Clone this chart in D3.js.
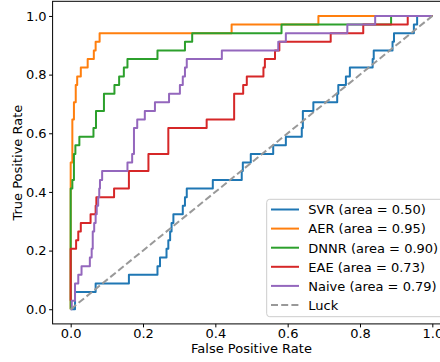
<!DOCTYPE html>
<html>
<head>
<meta charset="utf-8">
<script src="https://cdn.jsdelivr.net/npm/d3@7"></script>
<style>
  body { margin: 0; background: #fff; }
  svg { display: block; font-family: "DejaVu Sans", sans-serif; }
</style>
</head>
<body>
<svg width="440" height="362"></svg>
<script>
// ROC points (top-left corner of each step)
let svrFpr = [0, 0.012, 0.012, 0.069, 0.161, 0.240, 0.247, 0.265, 0.270, 0.275, 0.279, 0.284, 0.310, 0.316, 0.321, 0.393, 0.473, 0.476, 0.498, 0.560, 0.595, 0.639, 0.642, 0.671, 0.737, 0.740, 0.761, 0.772, 0.835, 0.838, 0.890, 0.894, 0.949, 0.958, 1.0];
let svrTpr = [0, 0.029, 0.059, 0.088, 0.118, 0.147, 0.176, 0.206, 0.235, 0.265, 0.294, 0.324, 0.353, 0.382, 0.412, 0.441, 0.471, 0.500, 0.529, 0.559, 0.588, 0.618, 0.676, 0.706, 0.735, 0.765, 0.794, 0.824, 0.853, 0.882, 0.912, 0.941, 0.971, 1.0, 1.0];

let aerFpr = [0, 0, 0.0046, 0.009, 0.014, 0.018, 0.028, 0.047, 0.064, 0.069, 0.080, 0.445, 0.685, 1.0];
let aerTpr = [0, 0.5, 0.647, 0.706, 0.765, 0.794, 0.824, 0.853, 0.882, 0.912, 0.941, 0.971, 1.0, 1.0];

let dnnrFpr = [0, 0, 0.0046, 0.009, 0.013, 0.024, 0.063, 0.070, 0.092, 0.121, 0.134, 0.147, 0.157, 0.240, 0.316, 0.336, 0.583, 0.886, 1.0];
let dnnrTpr = [0, 0.412, 0.441, 0.529, 0.559, 0.588, 0.618, 0.676, 0.735, 0.765, 0.794, 0.824, 0.853, 0.882, 0.912, 0.941, 0.971, 1.0, 1.0];

let eaeFpr = [0, 0, 0.015, 0.021, 0.028, 0.055, 0.069, 0.071, 0.120, 0.161, 0.215, 0.270, 0.376, 0.452, 0.477, 0.487, 0.533, 0.537, 0.565, 0.577, 0.719, 0.809, 0.932, 1.0];
let eaeTpr = [0.029, 0.206, 0.235, 0.265, 0.294, 0.324, 0.353, 0.382, 0.412, 0.471, 0.529, 0.618, 0.647, 0.735, 0.765, 0.794, 0.824, 0.853, 0.882, 0.912, 0.941, 0.971, 1.0, 1.0];

let naiveFpr = [0, 0.003, 0.012, 0.021, 0.030, 0.053, 0.058, 0.061, 0.065, 0.069, 0.072, 0.076, 0.079, 0.081, 0.087, 0.157, 0.170, 0.175, 0.184, 0.205, 0.233, 0.272, 0.302, 0.310, 0.316, 0.321, 0.418, 0.574, 0.595, 0.765, 0.842, 1.0];
let naiveTpr = [0, 0.029, 0.088, 0.118, 0.147, 0.176, 0.206, 0.265, 0.294, 0.324, 0.353, 0.382, 0.412, 0.441, 0.471, 0.500, 0.529, 0.618, 0.647, 0.676, 0.706, 0.735, 0.765, 0.794, 0.824, 0.853, 0.882, 0.912, 0.941, 0.971, 1.0, 1.0];

let luckFpr = [0, 1];
let luckTpr = [0, 1];

let seriesNames = ["SVR", "AER", "DNNR", "EAE", "Naive"];
let seriesAreas = ["0.50", "0.95", "0.90", "0.73", "0.79"];
let tickValues = [0, 0.2, 0.4, 0.6, 0.8, 1.0];

let svg = d3.select("svg"),
    fontSize = 13;

// axes box runs past the right edge of the picture, as in the original
let x = d3.scaleLinear().domain([-0.05, 1.05]).range([52.6, 450.4]);
let y = d3.scaleLinear().domain([-0.05, 1.05]).range([323.9, 1.3]);

let colors = ["#1f77b4", "#ff7f0e", "#2ca02c", "#d62728", "#9467bd"];
let series = [
    {fpr: svrFpr, tpr: svrTpr},
    {fpr: aerFpr, tpr: aerTpr},
    {fpr: dnnrFpr, tpr: dnnrTpr},
    {fpr: eaeFpr, tpr: eaeTpr},
    {fpr: naiveFpr, tpr: naiveTpr}
];

let stepLine = d3.line()
    .x(d => x(d[0]))
    .y(d => y(d[1]))
    .curve(d3.curveStepAfter);

let plain = d3.line()
    .x(d => x(d[0]))
    .y(d => y(d[1]));

let curves = svg.append("g");
series.forEach(function (s, i) {
    curves.append("path")
        .datum(d3.zip(s.fpr, s.tpr))
        .attr("fill", "none")
        .attr("stroke", colors[i])
        .attr("stroke-width", 2)
        .attr("stroke-linejoin", "round")
        .attr("d", stepLine);
});

curves.append("path")
    .datum(d3.zip(luckFpr, luckTpr))
    .attr("fill", "none")
    .attr("stroke", "#999999")
    .attr("stroke-width", 2)
    .attr("stroke-dasharray", "7,3.2")
    .attr("d", plain);

// frame
svg.append("rect")
    .attr("x", x.range()[0])
    .attr("y", y.range()[1])
    .attr("width", x.range()[1] - x.range()[0])
    .attr("height", y.range()[0] - y.range()[1])
    .attr("fill", "none")
    .attr("stroke", "#000")
    .attr("stroke-width", 1);

let xAxis = svg.append("g")
    .attr("transform", "translate(0," + y.range()[0] + ")")
    .call(d3.axisBottom(x).tickValues(tickValues).tickFormat(d3.format(".1f"))
        .tickSize(3.5).tickSizeOuter(0).tickPadding(1.5));

let yAxis = svg.append("g")
    .attr("transform", "translate(" + x.range()[0] + ",0)")
    .call(d3.axisLeft(y).tickValues(tickValues).tickFormat(d3.format(".1f"))
        .tickSize(3.5).tickSizeOuter(0).tickPadding(2.5));

[xAxis, yAxis].forEach(function (a) {
    a.select(".domain").remove();
    a.selectAll("text")
        .attr("font-family", "DejaVu Sans")
        .attr("font-size", fontSize)
        .attr("fill", "#000");
    a.selectAll("line").attr("stroke", "#000");
});

svg.append("text")
    .attr("x", (x.range()[0] + x.range()[1]) / 2)
    .attr("y", 353.3)
    .attr("text-anchor", "middle")
    .attr("font-size", fontSize)
    .text("False Positive Rate");

svg.append("text")
    .attr("transform", "translate(22.3," + (y.range()[0] + y.range()[1]) / 2 + ") rotate(-90)")
    .attr("text-anchor", "middle")
    .attr("font-size", fontSize)
    .text("True Positive Rate");

// legend
let legendItems = seriesNames.map((n, i) => ({label: n + " (area = " + seriesAreas[i] + ")", color: colors[i], dash: null}));
legendItems.push({label: "Luck", color: "#999999", dash: "7,3.2"});

let legend = svg.append("g").attr("transform", "translate(266.7,199.3)");

legend.append("rect")
    .attr("width", 180)
    .attr("height", 117.4)
    .attr("rx", 3)
    .attr("fill", "#fff")
    .attr("fill-opacity", 0.8)
    .attr("stroke", "#cccccc")
    .attr("stroke-width", 1);

let rows = legend.selectAll("g.row")
    .data(legendItems)
    .enter().append("g")
    .attr("class", "row")
    .attr("transform", (d, i) => "translate(0," + (10.2 + i * 19.1) + ")");

rows.append("line")
    .attr("x1", 4.3)
    .attr("x2", 32.3)
    .attr("stroke", d => d.color)
    .attr("stroke-width", 2)
    .attr("stroke-dasharray", d => d.dash);

rows.append("text")
    .attr("x", 41.6)
    .attr("y", 4.8)
    .attr("font-size", fontSize)
    .text(d => d.label);
</script>
</body>
</html>
